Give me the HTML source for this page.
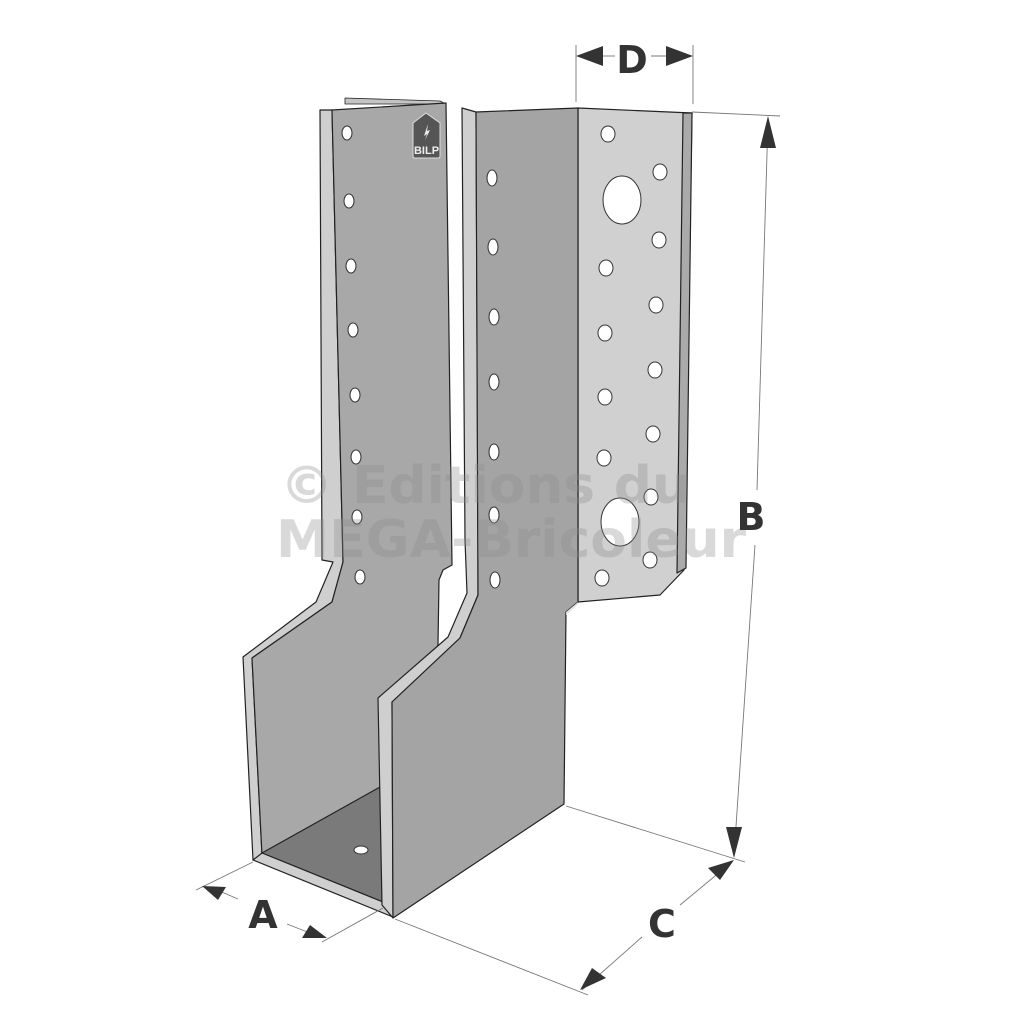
<!DOCTYPE html>
<html><head><meta charset="utf-8"><style>html,body{margin:0;padding:0;background:#fff}svg{display:block}</style></head>
<body>
<svg width="1024" height="1024" viewBox="0 0 1024 1024" xmlns="http://www.w3.org/2000/svg">
<g stroke="#222" stroke-width="1.2" stroke-linejoin="round">
<!-- back strip top of left plate -->
<polygon points="345,98 440,101 446,104 345,104" fill="#c4c4c4" stroke-width="0.8"/>
<!-- left plate outer strip -->
<polygon points="320,110 332,110 343,562 332,602 252,658 262,855 253,860 243,657 316,602 333,562 322,560" fill="#cfcfcf"/>
<!-- left plate inside face -->
<polygon points="332,110 446,103 452,565 443,570 439,580 438,645 380,790 262,855 252,658 332,602 343,562" fill="#a8a8a8"/>
<!-- floor -->
<polygon points="262,853 380,787 383,902" fill="#7a7a7a"/>
<!-- bottom lip -->
<polygon points="253,860 262,853 383,902 393,917" fill="#cfcfcf"/>
<!-- right flange -->
<polygon points="578,108 692,113 684,570 660,595 578,602" fill="#d0d0d0"/>
<polygon points="683,113 692,113 686,568 677,573" fill="#aaaaaa"/>
<!-- right plate outer strip -->
<polygon points="462,108 476,112 478,540 478,595 460,638 392,702 393,918 382,905 378,698 448,637 467,593 465,540" fill="#cfcfcf"/>
<!-- front face -->
<polygon points="476,112 578,108 578,602 566,612 564,804 393,918 392,702 460,638 478,595" fill="#a4a4a4"/>
</g>
<!-- small back highlight of right flange -->
<polygon points="578,602 566,612 566,615 578,604" fill="#ddd"/>
<!-- holes -->
<g fill="#fff" stroke="#333" stroke-width="1">
<ellipse cx="347" cy="133" rx="5" ry="7"/><ellipse cx="349" cy="201" rx="5" ry="7"/><ellipse cx="351" cy="266" rx="5" ry="7"/><ellipse cx="353" cy="330" rx="5" ry="7"/><ellipse cx="355" cy="395" rx="5" ry="7"/><ellipse cx="356" cy="457" rx="5" ry="7"/><ellipse cx="357" cy="517" rx="5" ry="7"/><ellipse cx="360" cy="577" rx="5" ry="7"/>
<ellipse cx="492" cy="178" rx="5" ry="8"/><ellipse cx="493" cy="247" rx="5" ry="8"/><ellipse cx="494" cy="317" rx="5" ry="8"/><ellipse cx="494" cy="382" rx="5" ry="8"/><ellipse cx="494" cy="452" rx="5" ry="8"/><ellipse cx="494" cy="515" rx="5" ry="8"/><ellipse cx="495" cy="580" rx="5" ry="8"/>
<ellipse cx="608" cy="134" rx="7" ry="8"/><ellipse cx="660" cy="172" rx="7" ry="8"/><ellipse cx="659" cy="240" rx="7" ry="8"/><ellipse cx="606" cy="268" rx="7" ry="8"/><ellipse cx="656" cy="305" rx="7" ry="8"/><ellipse cx="605" cy="333" rx="7" ry="8"/><ellipse cx="655" cy="370" rx="7" ry="8"/><ellipse cx="605" cy="397" rx="7" ry="8"/><ellipse cx="653" cy="434" rx="7" ry="8"/><ellipse cx="604" cy="458" rx="7" ry="8"/><ellipse cx="651" cy="497" rx="7" ry="8"/><ellipse cx="650" cy="560" rx="7" ry="8"/><ellipse cx="602" cy="578" rx="7" ry="8"/>
<ellipse cx="622" cy="200" rx="19" ry="24"/><ellipse cx="620" cy="522" rx="19" ry="24"/>
<ellipse cx="361" cy="850" rx="7" ry="4"/>
</g>
<!-- BILP logo -->
<path d="M413,123 L426,113 L440,123 L440,156 Q440,158 438,158 L415,158 Q413,158 413,156 Z" fill="#555" stroke="#ddd" stroke-width="1"/>
<path d="M428,124 L424,136 L427,134 L425,140 L430,130 L427,131 Z" fill="#eee"/>
<text x="426.5" y="154" font-family="Liberation Sans, sans-serif" font-weight="bold" font-size="11" fill="#eee" text-anchor="middle">BILP</text>
<!-- watermark -->
<g font-family="DejaVu Sans, sans-serif" font-weight="bold" font-size="52" fill="rgba(140,140,140,0.33)">
<text x="280" y="503" textLength="410" lengthAdjust="spacingAndGlyphs">© Editions du</text>
<text x="276" y="557" textLength="470" lengthAdjust="spacingAndGlyphs">MEGA-Bricoleur</text>
</g>
<!-- dimension lines -->
<g stroke="#777" stroke-width="0.9" fill="none">
<line x1="576" y1="45" x2="576" y2="102"/><line x1="693" y1="45" x2="693" y2="104"/>
<line x1="600" y1="56" x2="615" y2="56"/><line x1="651" y1="56" x2="668" y2="56"/>
<line x1="692" y1="112" x2="780" y2="116"/>
<line x1="768" y1="120" x2="757" y2="490"/><line x1="755" y1="545" x2="734" y2="856"/>
<line x1="566" y1="806" x2="745" y2="862"/>
<line x1="732" y1="862" x2="680" y2="905"/><line x1="642" y1="937" x2="582" y2="990"/>
<line x1="395" y1="919" x2="588" y2="995"/>
<line x1="253" y1="862" x2="196" y2="890"/><line x1="383" y1="908" x2="322" y2="942"/>
<line x1="210" y1="887" x2="238" y2="899"/><line x1="287" y1="924" x2="320" y2="937"/>
</g>
<g fill="#333">
<polygon points="576,56 603,46 603,66"/><polygon points="693,56 666,46 666,66"/>
<polygon points="768,116 760,148 776,148"/><polygon points="734,858 726,827 742,827"/>
<polygon points="734,860 708,868 720,880"/><polygon points="580,990 592,968 606,978"/>
<polygon points="202,886 226,887 218,900"/><polygon points="327,938 302,938 310,925"/>
</g>
<g font-family="DejaVu Sans, sans-serif" font-weight="bold" font-size="38" fill="#333" text-anchor="middle">
<text x="632" y="73">D</text>
<text x="751" y="530">B</text>
<text x="662" y="937">C</text>
<text x="263" y="928">A</text>
</g>
</svg>
</body></html>
